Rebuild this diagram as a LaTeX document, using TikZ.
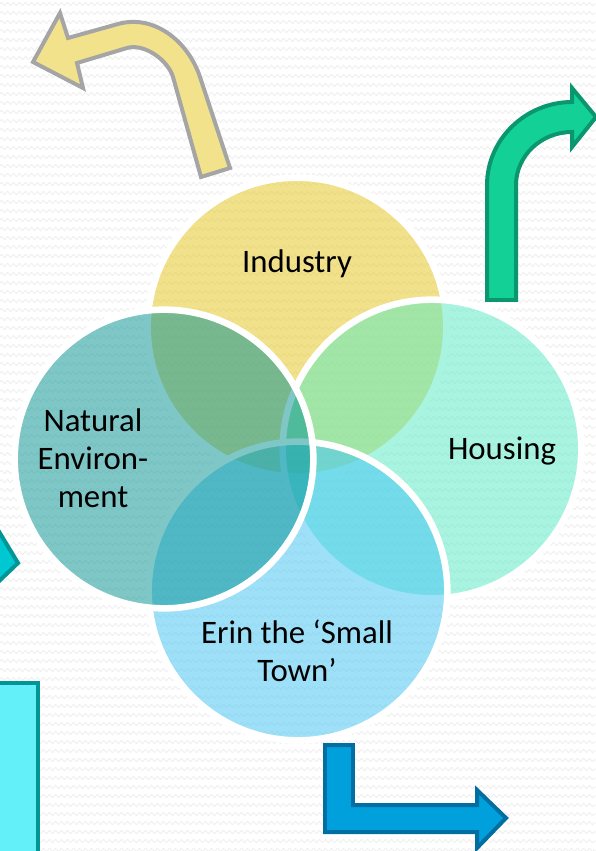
\documentclass[tikz,border=0pt]{standalone}
\usepackage{fontspec}
\setmainfont{Carlito}
\usetikzlibrary{decorations.pathmorphing}

\definecolor{industry}{RGB}{229,197,25}
\definecolor{housing}{RGB}{85,235,195}
\definecolor{erin}{RGB}{65,195,245}
\definecolor{natural}{RGB}{0,145,145}
\definecolor{sandfill}{RGB}{242,226,140}
\definecolor{sandline}{RGB}{165,165,165}
\definecolor{mintfill}{RGB}{18,208,150}
\definecolor{mintline}{RGB}{10,150,110}
\definecolor{skyfill}{RGB}{0,160,220}
\definecolor{skyline}{RGB}{0,110,160}
\definecolor{tealfill}{RGB}{0,200,210}
\definecolor{tealline}{RGB}{0,150,150}
\definecolor{cyanfill}{RGB}{100,240,248}

\begin{document}
\begin{tikzpicture}[x=0.03cm,y=-0.03cm,
  venn/.style={draw=white,line width=5.6pt,circle,minimum size=8.96cm,fill opacity=0.5},
  vtext/.style={align=center,text=black,font=\fontsize{28}{32.5}\selectfont},
  blockarrow/.style={line width=3.4pt,line join=miter},
  bgwave/.style={black!7,line width=0.6pt,decorate,
    decoration={zigzag,segment length=0.18cm,amplitude=0.05cm}}]

  \useasboundingbox (0,0) rectangle (596,851);
  \clip (0,0) rectangle (596,851);
  \fill[white] (0,0) rectangle (596,851);
  \foreach \row in {4,13,...,850}
    \draw[bgwave] (0,\row) -- (596,\row);

  % arrows round the diagram
  \draw[blockarrow,fill=sandfill,draw=sandline] (201,177) -- (173,77)
    .. controls (168,60) and (144,43) .. (127,48) -- (77,63) -- (83,88)
    -- (33,62) -- (60,13) -- (68,38) -- (118,24)
    .. controls (154,14) and (188,41) .. (200,77) -- (230,168) -- cycle;
  \draw[blockarrow,fill=mintfill,draw=mintline] (487,300) -- (487,185)
    .. controls (487,139) and (526,102) .. (572,102) -- (572,88)
    -- (596,117) -- (572,147) -- (572,132)
    .. controls (541,132) and (516,156) .. (516,185) -- (516,300) -- cycle;
  \draw[blockarrow,fill=skyfill,draw=skyline] (325,745) -- (353,745)
    -- (353,805) -- (477,805) -- (477,790) -- (506,818) -- (477,848)
    -- (477,832) -- (325,832) -- cycle;
  \draw[blockarrow,fill=tealfill,draw=tealline] (-5,525) -- (18,563)
    -- (-5,585) -- cycle;
  \draw[blockarrow,fill=cyanfill,draw=tealline] (-10,683) rectangle (38,870);

  % venn circles
  \node[venn,fill=industry] (industry) at (297,327) {};
  \node[venn,fill=housing] (housing) at (432,449) {};
  \node[venn,fill=erin] (erin) at (298,591) {};
  \node[venn,fill=natural] (natural) at (164,459) {};

  \node[vtext] (industrylabel) at (297,264) {Industry};
  \node[vtext] (housinglabel) at (502,451) {Housing};
  \node[vtext] (naturallabel) at (93,458) {Natural\\Environ-\\ment};
  \node[vtext] (erinlabel) at (297,651) {Erin the ‘Small\\Town’};

\end{tikzpicture}
\end{document}
